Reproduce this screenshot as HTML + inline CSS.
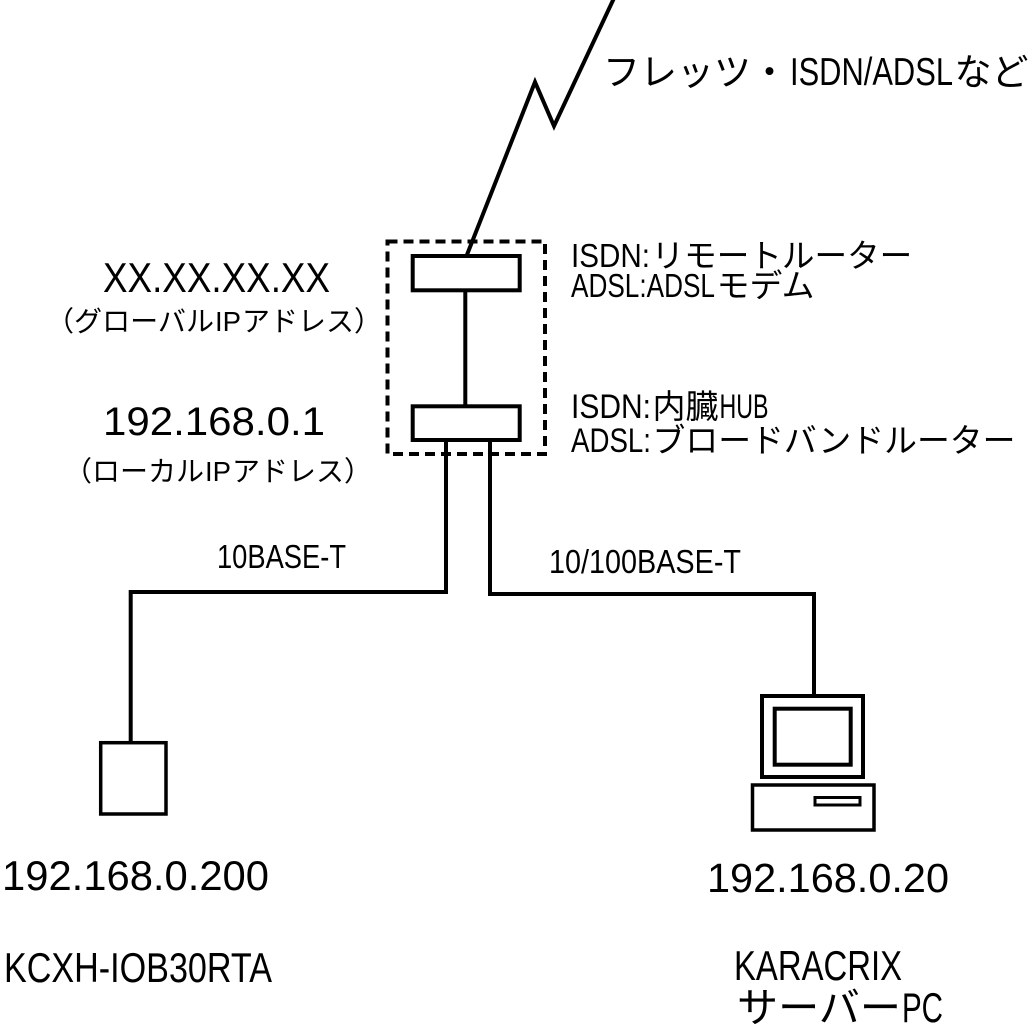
<!DOCTYPE html>
<html>
<head>
<meta charset="utf-8">
<style>
html,body{margin:0;padding:0;background:#fff;}
svg{display:block;}
.k{font-family:"Noto Sans CJK JP","Noto Sans CJK SC",sans-serif;fill:#000;}
.l{font-family:"Liberation Sans Narrow","Liberation Sans",sans-serif;fill:#000;}
</style>
</head>
<body>
<svg width="1032" height="1035" viewBox="0 0 1032 1035" xmlns="http://www.w3.org/2000/svg">
<rect x="0" y="0" width="1032" height="1035" fill="#fff"/>

<!-- zigzag line -->
<polyline points="615,-4 554,126 535,82 466.5,256" fill="none" stroke="#000" stroke-width="4" stroke-linejoin="miter"/>

<!-- dashed enclosure -->
<rect x="387.5" y="241.5" width="157.5" height="212.5" fill="none" stroke="#000" stroke-width="4" stroke-dasharray="10 6"/>

<!-- router boxes -->
<rect x="412.7" y="256" width="107" height="34.3" fill="#fff" stroke="#000" stroke-width="4"/>
<line x1="465.3" y1="290" x2="465.3" y2="406" stroke="#000" stroke-width="4"/>
<rect x="412.7" y="406.3" width="107" height="33.7" fill="#fff" stroke="#000" stroke-width="4"/>

<!-- connectors -->
<polyline points="446,442 446,592 130.7,592 130.7,743" fill="none" stroke="#000" stroke-width="4"/>
<polyline points="490,442 490,594 814,594 814,696" fill="none" stroke="#000" stroke-width="4"/>

<!-- left device -->
<rect x="100.7" y="742.7" width="65.3" height="71.3" fill="#fff" stroke="#000" stroke-width="3.5"/>

<!-- computer -->
<rect x="762" y="696" width="101" height="81" fill="#fff" stroke="#000" stroke-width="4"/>
<rect x="774.7" y="708.7" width="76" height="56" fill="#fff" stroke="#000" stroke-width="4"/>
<rect x="752.5" y="785" width="121.5" height="45" fill="#fff" stroke="#000" stroke-width="3.5"/>
<rect x="815" y="797.5" width="45" height="7.5" fill="#fff" stroke="#000" stroke-width="3"/>

<!-- label: フレッツ・ISDN/ADSLなど -->
<text class="k" x="603" y="85" font-size="37" textLength="185" lengthAdjust="spacingAndGlyphs">フレッツ・</text>
<text class="l" x="790" y="85" font-size="39" textLength="163" lengthAdjust="spacingAndGlyphs">ISDN/ADSL</text>
<text class="k" x="954.5" y="85" font-size="37" textLength="74" lengthAdjust="spacingAndGlyphs">など</text>

<!-- ISDN:リモートルーター / ADSL:ADSLモデム -->
<text class="l" x="571" y="267" font-size="33.5" textLength="79" lengthAdjust="spacingAndGlyphs">ISDN:</text>
<text class="k" x="651.5" y="267" font-size="32.6" textLength="260.8" lengthAdjust="spacingAndGlyphs">リモートルーター</text>
<text class="l" x="571" y="297" font-size="33.5" textLength="144" lengthAdjust="spacingAndGlyphs">ADSL:ADSL</text>
<text class="k" x="716.7" y="297" font-size="32.6" textLength="97.8" lengthAdjust="spacingAndGlyphs">モデム</text>

<!-- ISDN:内臓HUB / ADSL:ブロードバンドルーター -->
<text class="l" x="571" y="418" font-size="34" textLength="80" lengthAdjust="spacingAndGlyphs">ISDN:</text>
<text class="k" x="652.5" y="418" font-size="33" textLength="66" lengthAdjust="spacingAndGlyphs">内臓</text>
<text class="l" x="719.5" y="418" font-size="34" textLength="49" lengthAdjust="spacingAndGlyphs">HUB</text>
<text class="l" x="571" y="452" font-size="34" textLength="80" lengthAdjust="spacingAndGlyphs">ADSL:</text>
<text class="k" x="652.5" y="452" font-size="33" textLength="363" lengthAdjust="spacingAndGlyphs">ブロードバンドルーター</text>

<!-- link labels -->
<text class="l" x="549" y="573" font-size="33" textLength="192" lengthAdjust="spacingAndGlyphs">10/100BASE-T</text>
<text class="l" x="217" y="568" font-size="33" textLength="129" lengthAdjust="spacingAndGlyphs">10BASE-T</text>

<!-- left address labels -->
<text class="l" x="103" y="292" font-size="42" textLength="227" lengthAdjust="spacingAndGlyphs">XX.XX.XX.XX</text>
<text class="k" x="46" y="331" font-size="28" textLength="168" lengthAdjust="spacingAndGlyphs">（グローバル</text>
<text class="l" x="215" y="331" font-size="28" textLength="26" lengthAdjust="spacingAndGlyphs">IP</text>
<text class="k" x="242" y="331" font-size="28" textLength="140" lengthAdjust="spacingAndGlyphs">アドレス）</text>

<text class="l" x="103" y="435" font-size="40" textLength="222" lengthAdjust="spacingAndGlyphs">192.168.0.1</text>
<text class="k" x="64" y="481" font-size="28" textLength="140" lengthAdjust="spacingAndGlyphs">（ローカル</text>
<text class="l" x="205" y="481" font-size="28" textLength="26" lengthAdjust="spacingAndGlyphs">IP</text>
<text class="k" x="232" y="481" font-size="28" textLength="140" lengthAdjust="spacingAndGlyphs">アドレス）</text>

<!-- bottom labels -->
<text class="l" x="2" y="890" font-size="42" textLength="267" lengthAdjust="spacingAndGlyphs">192.168.0.200</text>
<text class="l" x="4" y="982" font-size="42" textLength="268" lengthAdjust="spacingAndGlyphs">KCXH-IOB30RTA</text>

<text class="l" x="707" y="892" font-size="41" textLength="242" lengthAdjust="spacingAndGlyphs">192.168.0.20</text>
<text class="l" x="734" y="980" font-size="42" textLength="168" lengthAdjust="spacingAndGlyphs">KARACRIX</text>
<text class="k" x="737" y="1022" font-size="41" textLength="164" lengthAdjust="spacingAndGlyphs">サーバー</text>
<text class="l" x="902" y="1022" font-size="42" textLength="41" lengthAdjust="spacingAndGlyphs">PC</text>
</svg>
</body>
</html>
